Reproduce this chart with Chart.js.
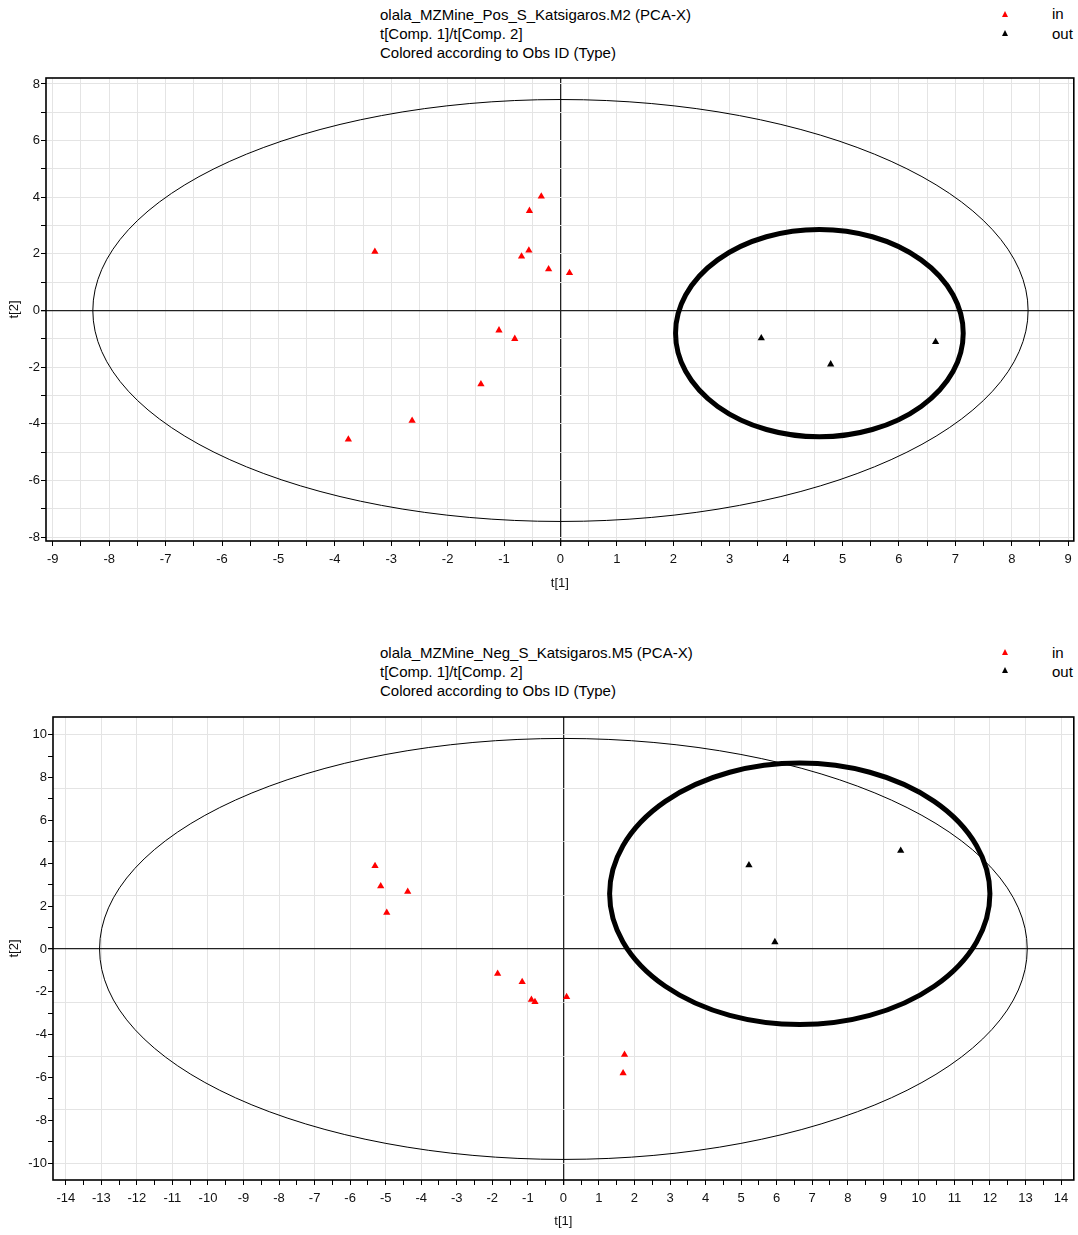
<!DOCTYPE html>
<html>
<head>
<meta charset="utf-8">
<script src="https://cdn.jsdelivr.net/npm/chart.js@4.4.1/dist/chart.umd.min.js"></script>
<style>
body { margin: 0; background: #fff; width: 1078px; height: 1235px; position: relative; overflow: hidden;
       font-family: "Liberation Sans", Arial, sans-serif; color: #000; }
canvas { position: absolute; left: 0; }
.ttl { position: absolute; left: 380px; font-size: 15px; line-height: 19px; white-space: nowrap; }
.leg { position: absolute; left: 1052px; font-size: 15px; line-height: 19px; }
.tri { position: absolute; left: 1002px; width: 0; height: 0;
       border-left: 3.5px solid transparent; border-right: 3.5px solid transparent; border-bottom: 6px solid #000; }
.red { border-bottom-color: #f00; }
</style>
</head>
<body>
<div class="ttl" style="top:5px">olala_MZMine_Pos_S_Katsigaros.M2 (PCA-X)<br>t[Comp. 1]/t[Comp. 2]<br>Colored according to Obs ID (Type)</div>
<div class="tri red" style="top:11px"></div><div class="leg" style="top:4px">in</div>
<div class="tri" style="top:30px"></div><div class="leg" style="top:24px">out</div>

<div class="ttl" style="top:643px">olala_MZMine_Neg_S_Katsigaros.M5 (PCA-X)<br>t[Comp. 1]/t[Comp. 2]<br>Colored according to Obs ID (Type)</div>
<div class="tri red" style="top:649px"></div><div class="leg" style="top:643px">in</div>
<div class="tri" style="top:667px"></div><div class="leg" style="top:662px">out</div>

<canvas id="posChart" width="1078" height="610" style="top:0px"></canvas>
<canvas id="negChart" width="1078" height="618" style="top:617px"></canvas>

<script>
// scores, positive mode model (M2)
var posInX = [-0.34, -0.55, -3.29, -0.56, -0.69, -0.21, 0.16, -1.09, -0.81, -1.41, -2.63, -3.76];
var posInY = [4.03, 3.52, 2.08, 2.12, 1.91, 1.46, 1.33, -0.70, -1.00, -2.60, -3.89, -4.55];
var posOutX = [3.56, 4.79, 6.65];
var posOutY = [-0.98, -1.90, -1.11];

// scores, negative mode model (M5)
var negInX = [-5.30, -5.14, -4.38, -4.97, -1.85, -1.16, -0.90, -0.80, 0.09, 1.72, 1.68];
var negInY = [3.87, 2.93, 2.67, 1.69, -1.15, -1.54, -2.37, -2.47, -2.24, -4.93, -5.80];
var negOutX = [5.22, 9.49, 5.95];
var negOutY = [3.91, 4.58, 0.32];

// ellipses: [centre x, centre y, half width, half height]
var posHotelling = [0, 0, 8.29, 7.45];
var posCircle = [4.59, -0.80, 2.55, 3.66];
var negHotelling = [0, 0, 13.05, 9.82];
var negCircle = [6.65, 2.57, 5.35, 6.10];

// axis ranges
var posXRange = [-9.12, 9.10];
var posYRange = [-8.14, 8.21];
var negXRange = [-14.36, 14.36];
var negYRange = [-10.78, 10.82];

var GRID = '#e4e4e4';
var font13 = { family: '"Liberation Sans", Arial, sans-serif', size: 13 };

function pts(xs, ys) {
    return xs.map(function (v, i) { return { x: v, y: ys[i] }; });
}
function isZero(v) { return Math.abs(v) < 1e-9; }
function isInt(v) { return Math.abs(v - Math.round(v)) < 1e-9; }
function intLabel(v) { return isInt(v) ? String(Math.round(v)) : ''; }
function evenLabel(v) { return isInt(v) && Math.round(v) % 2 === 0 ? String(Math.round(v)) : ''; }

var ellipsePlugin = {
    id: 'ellipses',
    beforeDatasetsDraw: function (chart, args, opts) {
        var ctx = chart.ctx, a = chart.chartArea, x = chart.scales.x, y = chart.scales.y;
        ctx.save();
        ctx.beginPath();
        ctx.rect(a.left, a.top, a.right - a.left, a.bottom - a.top);
        ctx.clip();
        opts.list.forEach(function (e) {
            var p = e.p;
            var cx = x.getPixelForValue(p[0]), cy = y.getPixelForValue(p[1]);
            var rx = Math.abs(x.getPixelForValue(p[0] + p[2]) - cx);
            var ry = Math.abs(y.getPixelForValue(p[1] + p[3]) - cy);
            ctx.beginPath();
            ctx.ellipse(cx, cy, rx, ry, 0, 0, 2 * Math.PI);
            ctx.lineWidth = e.w;
            ctx.strokeStyle = '#000';
            ctx.stroke();
        });
        ctx.restore();
    },
    afterDraw: function (chart) {
        var ctx = chart.ctx, a = chart.chartArea;
        ctx.save();
        ctx.lineWidth = 1.6;
        ctx.strokeStyle = '#000';
        ctx.strokeRect(a.left, a.top, a.right - a.left, a.bottom - a.top);
        ctx.restore();
    }
};

function makeChart(id, o) {
    var scales = {
        x: {
            type: 'linear', min: o.xr[0], max: o.xr[1],
            afterFit: function (s) { s.height = o.xh; },
            ticks: { stepSize: 0.5, includeBounds: false, autoSkip: false, maxRotation: 0,
                     padding: 6, color: '#111', font: font13, callback: intLabel },
            grid: {
                color: function (c) {
                    var v = c.tick.value;
                    if (isZero(v)) return '#222';
                    if (o.xGridInt && !isInt(v)) return 'rgba(0,0,0,0)';
                    return GRID;
                },
                lineWidth: function (c) { return isZero(c.tick.value) ? 1.3 : 1; },
                tickColor: '#000', tickLength: 5
            },
            border: { display: false },
            title: { display: true, text: 't[1]', color: '#111', font: font13,
                     padding: { top: 0, bottom: o.xtp } }
        },
        y: {
            type: 'linear', min: o.yr[0], max: o.yr[1],
            afterFit: function (s) { s.width = o.yw; },
            ticks: { stepSize: 1, includeBounds: false, autoSkip: false,
                     padding: 1, color: '#111', font: font13, callback: evenLabel },
            grid: {
                drawOnChartArea: !o.yGrid25,
                color: function (c) { return isZero(c.tick.value) ? '#222' : GRID; },
                lineWidth: function (c) { return isZero(c.tick.value) ? 1.3 : 1; },
                tickColor: '#000', tickLength: 5
            },
            border: { display: false },
            title: { display: true, text: 't[2]', color: '#111', font: font13,
                     padding: { top: 7, bottom: 0 } }
        }
    };
    if (o.yGrid25) {
        // horizontal grid every 2.5 units, independent of the tick marks
        scales.yg = {
            type: 'linear', position: 'left', min: o.yr[0], max: o.yr[1],
            afterFit: function (s) { s.width = 0; },
            ticks: { display: false, stepSize: 2.5, includeBounds: false },
            grid: {
                drawTicks: false,
                color: function (c) { return isZero(c.tick.value) ? '#222' : GRID; },
                lineWidth: function (c) { return isZero(c.tick.value) ? 1.3 : 1; }
            },
            border: { display: false }
        };
    }
    return new Chart(document.getElementById(id).getContext('2d'), {
        type: 'scatter',
        data: {
            datasets: [{
                label: 'in',
                data: o.inPts,
                pointStyle: 'triangle',
                pointRadius: 4.2,
                pointBorderWidth: 0,
                backgroundColor: '#ff0000'
            }, {
                label: 'out',
                data: o.outPts,
                pointStyle: 'triangle',
                pointRadius: 4.2,
                pointBorderWidth: 0,
                backgroundColor: '#000000'
            }]
        },
        options: {
            responsive: false,
            animation: false,
            devicePixelRatio: 1,
            layout: { padding: { top: o.pt, right: o.pr, left: 0, bottom: 0 } },
            plugins: {
                legend: { display: false },
                title: { display: false },
                tooltip: { enabled: false },
                ellipses: { list: o.ellipses }
            },
            scales: scales
        },
        plugins: [ellipsePlugin]
    });
}

makeChart('posChart', {
    inPts: pts(posInX, posInY), outPts: pts(posOutX, posOutY),
    xr: posXRange, yr: posYRange,
    pt: 78, pr: 3, yw: 46, xh: 69, xtp: 19,
    xGridInt: false, yGrid25: false,
    ellipses: [{ p: posHotelling, w: 1 }, { p: posCircle, w: 5 }]
});

makeChart('negChart', {
    inPts: pts(negInX, negInY), outPts: pts(negOutX, negOutY),
    xr: negXRange, yr: negYRange,
    pt: 100, pr: 2, yw: 53, xh: 55, xtp: 6,
    xGridInt: true, yGrid25: true,
    ellipses: [{ p: negHotelling, w: 1 }, { p: negCircle, w: 5 }]
});
</script>
</body>
</html>
